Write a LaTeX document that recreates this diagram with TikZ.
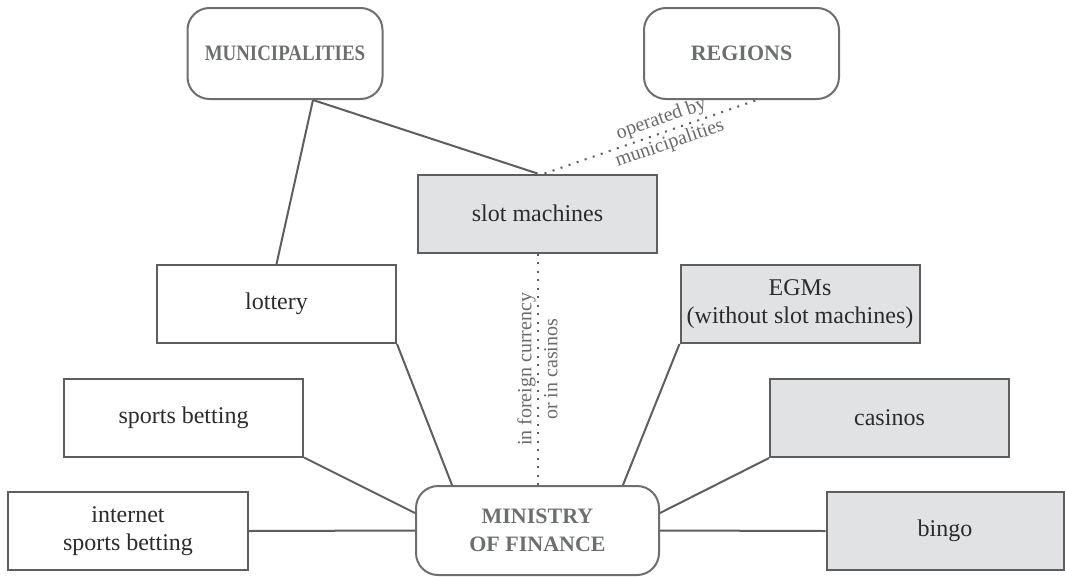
\documentclass[tikz,border=0pt]{standalone}
\usepackage{fontspec}
\setmainfont{Liberation Serif}
\usetikzlibrary{calc}
\definecolor{edge}{HTML}{5E5E5E}
\definecolor{boxfill}{HTML}{E1E2E4}
\definecolor{bodytxt}{HTML}{2B2B2B}
\definecolor{headtxt}{HTML}{6D6E70}
\definecolor{labeltxt}{HTML}{6A6A6A}
\tikzset{
  plainbox/.style={draw=edge, line width=2pt, rectangle, inner sep=0pt,
    minimum width=239pt, minimum height=78pt, align=center, text=bodytxt,
    font=\fontsize{24}{28}\selectfont},
  greybox/.style={plainbox, fill=boxfill},
  authority/.style={draw=edge!90, line width=2pt, rounded corners=22pt, inner sep=0pt,
    minimum width=195pt, minimum height=91pt, align=center, text=headtxt,
    font=\fontsize{22}{28}\selectfont\bfseries},
  link/.style={draw=edge, line width=2pt},
  dotlink/.style={draw=edge, line width=2pt, dash pattern=on 2pt off 6.5pt},
  linklabel/.style={text=labeltxt, align=center, font=\fontsize{20}{26}\selectfont, inner sep=1pt}
}
\begin{document}
\begin{tikzpicture}[x=1pt,y=-1pt]
\useasboundingbox (0,0) rectangle (1065,576);
\node[authority] (muni) at (285,53.5) {\scalebox{0.86}[1]{MUNICIPALITIES}};
\node[authority] (regions) at (741.5,53.5) {REGIONS};
\node[authority, minimum width=243pt, minimum height=89pt] (mof) at (537.5,530.5) {MINISTRY\\OF FINANCE};
\node[greybox] (slot) at (537.5,213.5) {slot machines};
\node[plainbox] (lottery) at (276.5,304) {lottery};
\node[greybox] (egm) at (800,304) {EGMs\\(without slot machines)};
\node[plainbox] (sports) at (183.5,417.5) {sports betting};
\node[greybox] (casinos) at (889.5,418) {casinos};
\node[plainbox, minimum width=240pt] (internet) at (128,531) {internet\\sports betting};
\node[greybox, minimum width=237pt] (bingo) at (945,531) {bingo};

\draw[link] ([xshift=28pt]muni.south) -- (lottery.north);
\draw[link] ([xshift=28pt]muni.south) -- (slot.north);
\draw[dotlink] ([xshift=7pt]slot.north) -- node[linklabel, sloped, pos=0.57] {operated by\\municipalities} ([xshift=15.5pt]regions.south);
\draw[dotlink] (slot.south) -- node[linklabel, rotate=90, midway] {in foreign currency\\or in casinos} (mof.north);
\draw[link] (lottery.south east) -- ([xshift=-85.5pt]mof.north);
\draw[link] (sports.south east) -- ([yshift=17.5pt]mof.west);
\draw[link] (internet.east) -- (mof.west);
\draw[link] (egm.south west) -- ([xshift=85.5pt]mof.north);
\draw[link] (casinos.south west) -- ([yshift=17.5pt]mof.east);
\draw[link] (bingo.west) -- (mof.east);
\end{tikzpicture}
\end{document}
